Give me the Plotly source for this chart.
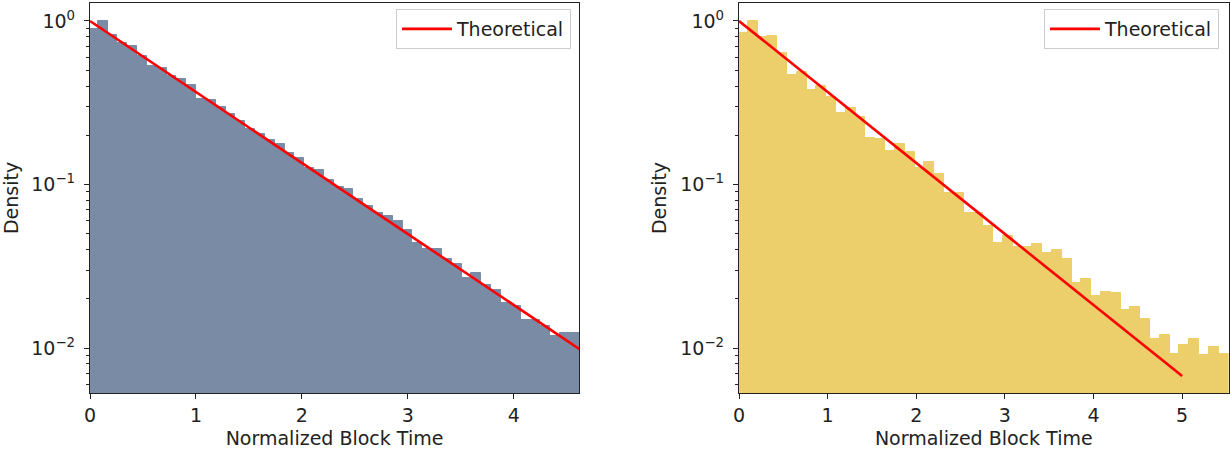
import plotly.graph_objects as go

# ---------------- data ----------------
# Left histogram (normalized block time, density) - 50 bins
left_bin_start = -0.019
left_bin_width = 0.0928
left_density = [
    0.894, 1.004, 0.821, 0.737, 0.706, 0.613, 0.533, 0.518, 0.461, 0.442,
    0.406, 0.333, 0.329, 0.299, 0.270, 0.2456, 0.2185, 0.2036, 0.1871, 0.1769,
    0.1559, 0.1452, 0.1262, 0.1227, 0.1066, 0.0969, 0.0935, 0.0812, 0.0739, 0.0667,
    0.0642, 0.0598, 0.0527, 0.0437, 0.0403, 0.0403, 0.0349, 0.0325, 0.0267, 0.0289,
    0.0243, 0.0226, 0.0189, 0.0181, 0.0148, 0.0148, 0.0136, 0.0118, 0.0124, 0.0123,
]
left_theory_x = [0.0, 4.62]
left_theory_y = [1.0, 0.00985]

# Right histogram - 50 bins
right_bin_start = -0.012
right_bin_width = 0.1107
right_density = [
    0.845, 1.004, 0.798, 0.815, 0.634, 0.467, 0.488, 0.378, 0.398, 0.344,
    0.275, 0.292, 0.260, 0.1916, 0.189, 0.161, 0.1769, 0.1587, 0.1257, 0.1378,
    0.1159, 0.0884, 0.0884, 0.0672, 0.0672, 0.0557, 0.0441, 0.0484, 0.0416, 0.0416,
    0.0433, 0.0383, 0.0398, 0.0352, 0.0249, 0.0263, 0.0209, 0.0219, 0.0216, 0.0171,
    0.0177, 0.0151, 0.01135, 0.0120, 0.0092, 0.01039, 0.01135, 0.00903, 0.0102, 0.0092,
]
right_theory_x = [0.0, 5.0]
right_theory_y = [1.0, 0.00674]

y_major_vals = [1, 0.1, 0.01]
y_major_text = ["10<sup>0</sup>", "10<sup>\u22121</sup>", "10<sup>\u22122</sup>"]
y_minor_vals = [0.006, 0.007, 0.008, 0.009,
                0.02, 0.03, 0.04, 0.05, 0.06, 0.07, 0.08, 0.09,
                0.2, 0.3, 0.4, 0.5, 0.6, 0.7, 0.8, 0.9]
left_x_ticks = [0, 1, 2, 3, 4]
right_x_ticks = [0, 1, 2, 3, 4, 5]

x_label = "Normalized Block Time"
y_label = "Density"
legend_label = "Theoretical"

LEFT_COLOR = "#7a8ba6"
RIGHT_COLOR = "#ecce6a"
FONT = "DejaVu Sans"
FS = 19

def centers(start, width, n):
    return [start + (i + 0.5) * width for i in range(n)]

fig = go.Figure()

fig.add_trace(go.Bar(
    x=centers(left_bin_start, left_bin_width, len(left_density)),
    y=left_density, width=left_bin_width,
    marker=dict(color=LEFT_COLOR, line=dict(width=1, color=LEFT_COLOR)),
    showlegend=False, xaxis="x", yaxis="y"))
fig.add_trace(go.Scatter(
    x=left_theory_x, y=left_theory_y, mode="lines",
    line=dict(color="red", width=2.6), name=legend_label,
    xaxis="x", yaxis="y", legend="legend"))

fig.add_trace(go.Bar(
    x=centers(right_bin_start, right_bin_width, len(right_density)),
    y=right_density, width=right_bin_width,
    marker=dict(color=RIGHT_COLOR, line=dict(width=1, color=RIGHT_COLOR)),
    showlegend=False, xaxis="x2", yaxis="y2"))
fig.add_trace(go.Scatter(
    x=right_theory_x, y=right_theory_y, mode="lines",
    line=dict(color="red", width=2.6), name=legend_label,
    xaxis="x2", yaxis="y2", legend="legend2"))

W, H = 1230, 454
ydom = [1 - 393 / H, 1 - 3 / H]

def xaxis_cfg(dom, rng, ticks, anchor):
    return dict(domain=dom, range=rng, anchor=anchor, automargin=False,
                tickmode="array", tickvals=ticks, ticktext=[str(t) for t in ticks],
                ticks="outside", ticklen=5, tickwidth=1.2, tickcolor="#222",
                showline=True, linecolor="#222", linewidth=1.3, mirror=True,
                showgrid=False, zeroline=False,
                title=dict(text=x_label, font=dict(family=FONT, size=FS, color="#222"), standoff=6),
                tickfont=dict(family=FONT, size=FS, color="#222"))

def yaxis_cfg(anchor):
    return dict(type="log", domain=ydom, range=[-2.275, 0.11], anchor=anchor, automargin=False,
                tickmode="array", tickvals=y_major_vals, ticktext=y_major_text,
                ticks="outside", ticklen=5, tickwidth=1.2, tickcolor="#222",
                ticklabelstandoff=5,
                minor=dict(tickmode="array", tickvals=y_minor_vals, ticks="outside",
                           ticklen=3, tickwidth=1, tickcolor="#222", showgrid=False),
                showline=True, linecolor="#222", linewidth=1.3, mirror=True,
                showgrid=False, zeroline=False,
                title=dict(text=y_label, font=dict(family=FONT, size=FS, color="#222"), standoff=8),
                tickfont=dict(family=FONT, size=FS, color="#222"))

legend_common = dict(font=dict(family=FONT, size=FS, color="#222"),
                     bgcolor="rgba(255,255,255,0.8)", bordercolor="#cccccc", borderwidth=1,
                     xanchor="right", yanchor="top", itemwidth=50)

fig.update_layout(
    width=W, height=H,
    margin=dict(l=0, r=0, t=0, b=0, autoexpand=False),
    paper_bgcolor="white", plot_bgcolor="white",
    bargap=0,
    font=dict(family=FONT, size=FS, color="#222"),
    xaxis=xaxis_cfg([90 / W, 579 / W], [0, 4.615], left_x_ticks, "y"),
    yaxis=yaxis_cfg("x"),
    xaxis2=xaxis_cfg([739 / W, 1228.5 / W], [0, 5.523], right_x_ticks, "y2"),
    yaxis2=yaxis_cfg("x2"),
    legend=dict(x=571 / W, y=1 - 9 / H, **legend_common),
    legend2=dict(x=1219 / W, y=1 - 9 / H, **legend_common),
)

fig.write_html("out.html",
               config={"displayModeBar": False},
               post_script="document.body.style.margin='0';document.body.style.overflow='hidden';")
